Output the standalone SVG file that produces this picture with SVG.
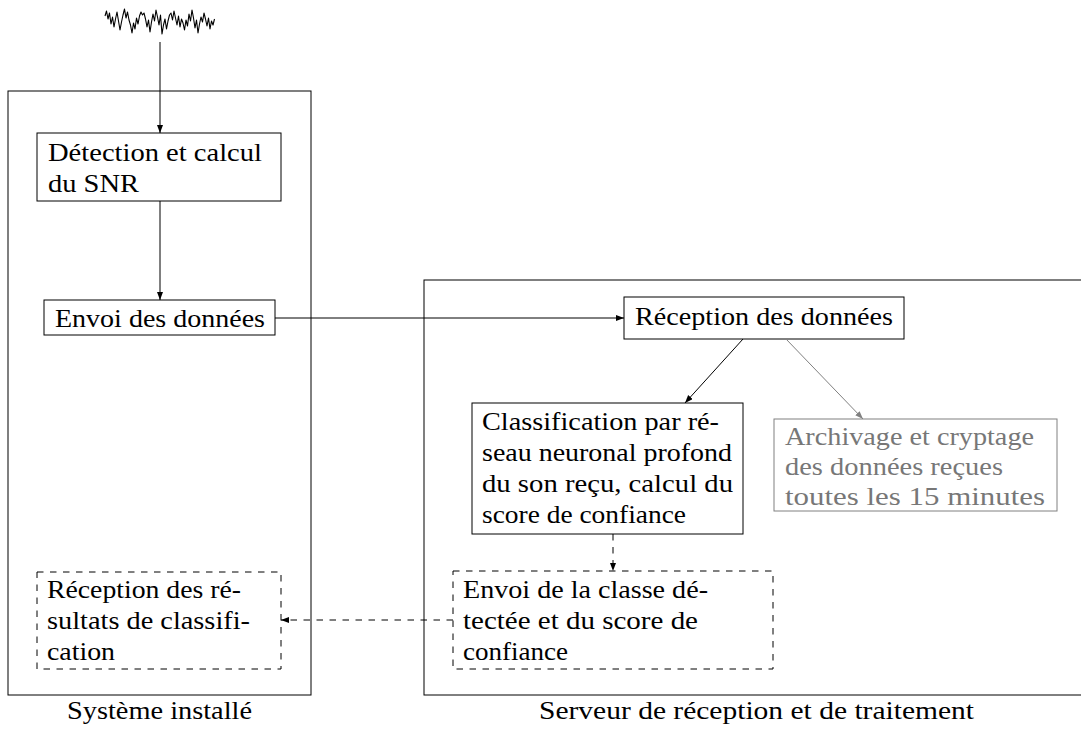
<svg xmlns="http://www.w3.org/2000/svg" width="1081" height="730" viewBox="0 0 1081 730">
<defs>
  <marker id="arr" markerUnits="userSpaceOnUse" markerWidth="9" markerHeight="7" refX="8" refY="3" orient="auto">
    <path d="M0,0 L8,3 L0,6 z" fill="#000"/>
  </marker>
  <marker id="garr" markerUnits="userSpaceOnUse" markerWidth="9" markerHeight="7" refX="8" refY="3" orient="auto">
    <path d="M0,0 L8,3 L0,6 z" fill="#808080"/>
  </marker>
</defs>
<rect width="1081" height="730" fill="#fff"/>

<g id="systeme">
  <rect x="8" y="91" width="303" height="604" fill="none" stroke="#000" stroke-width="1"/>
  <text font-family="Times New Roman" font-size="26" x="159.5" y="719" text-anchor="middle" textLength="185" lengthAdjust="spacingAndGlyphs">Système installé</text>
</g>
<g id="serveur">
  <rect x="424" y="280" width="700" height="415" fill="none" stroke="#000" stroke-width="1"/>
  <text font-family="Times New Roman" font-size="26" x="756.5" y="719" text-anchor="middle" textLength="435" lengthAdjust="spacingAndGlyphs">Serveur de réception et de traitement</text>
</g>

<g id="signal">
  <polyline fill="none" stroke="#000" stroke-width="1.1" stroke-linejoin="round" points="105,16 106.5,11 108,19 109.5,13 111,24 112.5,17 114,27 115.5,19 117,12 118.5,21 120,30 121.5,22 123,15 124.5,9 126,18 127.5,12 129,20 130.5,25 132,33 133.5,23 135,29 136.5,18 138,24 139.5,16 141,12 142.5,15 144,13 145.5,19 147,27 148.5,20 150,32 151.5,22 153,14 154.5,21 156,10 157.5,17 159,25 160.5,15 162,34 163.5,25 165,19 166.5,29 168,21 169.5,15 171,13 172.5,20 174,11 175.5,18 177,25 178.5,16 180,27 181.5,19 183,23 184.5,30 186,20 187.5,26 189,14 190.5,21 192,10 193.5,18 195,28 196.5,20 198,33 199.5,24 201,17 202.5,22 204,13 205.5,19 207,26 208.5,18 210,29 211.5,21 213,25 214.5,19"/>
</g>

<g id="detection">
  <rect x="37" y="133" width="244" height="68" fill="none" stroke="#000" stroke-width="1"/>
  <text font-family="Times New Roman" font-size="26" x="48" y="161" textLength="214" lengthAdjust="spacingAndGlyphs">Détection et calcul</text>
  <text font-family="Times New Roman" font-size="26" x="48" y="192" textLength="91" lengthAdjust="spacingAndGlyphs">du SNR</text>
</g>

<g id="envoi">
  <rect x="44" y="300" width="231" height="35" fill="none" stroke="#000" stroke-width="1"/>
  <text font-family="Times New Roman" font-size="26" x="55" y="327" textLength="210" lengthAdjust="spacingAndGlyphs">Envoi des données</text>
</g>

<g id="reception-resultats">
  <rect x="37" y="572" width="244" height="97" fill="none" stroke="#000" stroke-width="1" stroke-dasharray="6.5 6.5"/>
  <text font-family="Times New Roman" font-size="26" x="47" y="598" textLength="194" lengthAdjust="spacingAndGlyphs">Réception des ré-</text>
  <text font-family="Times New Roman" font-size="26" x="47" y="629" textLength="203" lengthAdjust="spacingAndGlyphs">sultats de classifi-</text>
  <text font-family="Times New Roman" font-size="26" x="47" y="660" textLength="68" lengthAdjust="spacingAndGlyphs">cation</text>
</g>

<g id="reception">
  <rect x="624" y="297" width="280" height="42" fill="none" stroke="#000" stroke-width="1"/>
  <text font-family="Times New Roman" font-size="26" x="635" y="325" textLength="258" lengthAdjust="spacingAndGlyphs">Réception des données</text>
</g>

<g id="classification">
  <rect x="472" y="403" width="271" height="131" fill="none" stroke="#000" stroke-width="1"/>
  <text font-family="Times New Roman" font-size="26" x="482" y="430" textLength="237" lengthAdjust="spacingAndGlyphs">Classification par ré-</text>
  <text font-family="Times New Roman" font-size="26" x="482" y="461" textLength="250" lengthAdjust="spacingAndGlyphs">seau neuronal profond</text>
  <text font-family="Times New Roman" font-size="26" x="482" y="492" textLength="251" lengthAdjust="spacingAndGlyphs">du son reçu, calcul du</text>
  <text font-family="Times New Roman" font-size="26" x="482" y="523" textLength="204" lengthAdjust="spacingAndGlyphs">score de confiance</text>
</g>

<g id="archivage">
  <rect x="774" y="419" width="283" height="92" fill="none" stroke="#808080" stroke-width="1"/>
  <text font-family="Times New Roman" font-size="26" fill="#777777" x="785" y="445" textLength="249" lengthAdjust="spacingAndGlyphs">Archivage et cryptage</text>
  <text font-family="Times New Roman" font-size="26" fill="#777777" x="785" y="475" textLength="218" lengthAdjust="spacingAndGlyphs">des données reçues</text>
  <text font-family="Times New Roman" font-size="26" fill="#777777" x="785" y="505" textLength="260" lengthAdjust="spacingAndGlyphs">toutes les 15 minutes</text>
</g>

<g id="envoi-classe">
  <rect x="453" y="571" width="320" height="98" fill="none" stroke="#000" stroke-width="1" stroke-dasharray="6.5 6.5"/>
  <text font-family="Times New Roman" font-size="26" x="463" y="598" textLength="245" lengthAdjust="spacingAndGlyphs">Envoi de la classe dé-</text>
  <text font-family="Times New Roman" font-size="26" x="463" y="629" textLength="235" lengthAdjust="spacingAndGlyphs">tectée et du score de</text>
  <text font-family="Times New Roman" font-size="26" x="463" y="660" textLength="105" lengthAdjust="spacingAndGlyphs">confiance</text>
</g>

<g id="connectors" fill="none" stroke="#000" stroke-width="1">
  <line x1="160" y1="42" x2="160" y2="133" marker-end="url(#arr)"/>
  <line x1="160" y1="201" x2="160" y2="300" marker-end="url(#arr)"/>
  <line x1="275" y1="318" x2="624" y2="318" marker-end="url(#arr)"/>
  <line x1="743" y1="339" x2="685" y2="403" marker-end="url(#arr)"/>
  <line x1="786" y1="339" x2="863" y2="419" stroke="#808080" marker-end="url(#garr)"/>
  <line x1="613" y1="534" x2="613" y2="571" stroke-dasharray="6.5 6.5" marker-end="url(#arr)"/>
  <line x1="453" y1="620" x2="281" y2="620" stroke-dasharray="6.5 6.5" marker-end="url(#arr)"/>
</g>
</svg>
